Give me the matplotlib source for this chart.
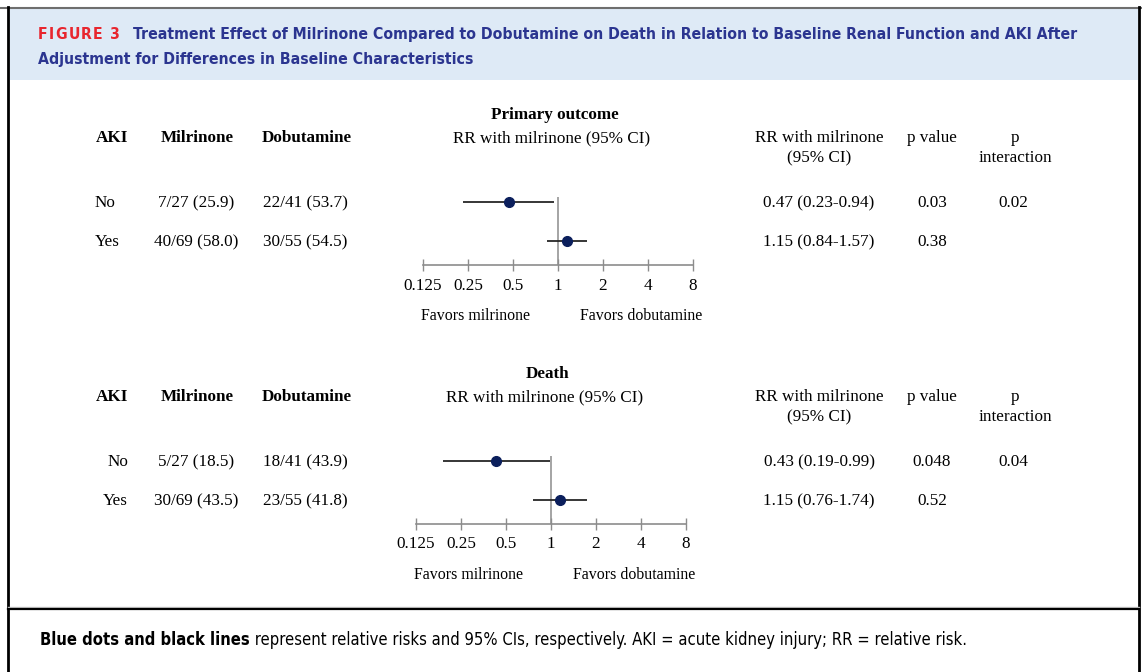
import numpy as np
import matplotlib.pyplot as plt
from matplotlib.patches import Rectangle
from matplotlib.lines import Line2D

W, H = 1142, 672

# Table rows (AKI status)
aki = ['No', 'Yes']

# Primary outcome
prim_mil = ['7/27 (25.9)', '40/69 (58.0)']
prim_dob = ['22/41 (53.7)', '30/55 (54.5)']
prim_rr = [0.47, 1.15]
prim_lo = [0.23, 0.84]
prim_hi = [0.94, 1.57]
prim_p = ['0.03', '0.38']
prim_pint = '0.02'

# Death
death_mil = ['5/27 (18.5)', '30/69 (43.5)']
death_dob = ['18/41 (43.9)', '23/55 (41.8)']
death_rr = [0.43, 1.15]
death_lo = [0.19, 0.76]
death_hi = [0.99, 1.74]
death_p = ['0.048', '0.52']
death_pint = '0.04'

ticks = [0.125, 0.25, 0.5, 1, 2, 4, 8]
tick_labels = ['0.125', '0.25', '0.5', '1', '2', '4', '8']

SERIF = 'Liberation Serif'
SANS = ['DejaVu Sans']
NAVY = '#0b1f5c'
TITLE_BLUE = '#2b3590'
RED = '#e8262e'
FS = 12.3

fig = plt.figure(figsize=(W / 100, H / 100), dpi=100)
bg = fig.add_axes([0, 0, 1, 1])
bg.set_xlim(0, W)
bg.set_ylim(H, 0)
bg.axis('off')

# frame and header band
bg.add_patch(Rectangle((9, 9), 1129, 71, color='#deeaf6', lw=0))
bg.add_line(Line2D([0, 1141], [7.5, 7.5], color='#6e6e6e', lw=1.5))
bg.add_line(Line2D([8, 8], [7, H], color='black', lw=2))
bg.add_line(Line2D([1139, 1139], [7, H], color='black', lw=2))
bg.add_line(Line2D([8, 1139], [607, 607], color='#c8c8c8', lw=1))
bg.add_line(Line2D([8, 1139], [608.5, 608.5], color='black', lw=1.6))

renderer = fig.canvas.get_renderer()


def text_width(s, size, **kw):
    t = bg.text(0, 0, s, fontsize=size, **kw)
    w = t.get_window_extent(renderer).width
    t.remove()
    return w


def fit_size(s, width, **kw):
    # font size that makes s span the given pixel width
    return 10 * width / text_width(s, 10, **kw)


title1 = ('Treatment Effect of Milrinone Compared to Dobutamine on Death in Relation to '
          'Baseline Renal Function and AKI After')
title2 = 'Adjustment for Differences in Baseline Characteristics'
tkw = dict(color=TITLE_BLUE, fontweight='bold', family=SANS, fontstretch='condensed')
ts = fit_size(title1, 940, **tkw)
bg.text(133, 39, title1, fontsize=ts, va='baseline', **tkw)
bg.text(38, 64, title2, fontsize=ts, va='baseline', **tkw)

# tracked "FIGURE 3"
fkw = dict(color=RED, fontweight='bold', family=SANS, fontstretch='condensed')
label = 'FIGURE 3'
raw = text_width(label, ts, **fkw)
track = (82 - raw) / (len(label) - 1)
x = 38
for ch in label:
    t = bg.text(x, 39, ch, fontsize=ts, va='baseline', **fkw)
    x += text_width(ch, ts, **fkw) + track

cap_b = 'Blue dots and black lines'
cap_r = (' represent relative risks and 95% CIs, respectively. AKI = acute kidney injury; '
         'RR = relative risk.')
ckw = dict(color='black', family=SANS, fontstretch='condensed')
cs = 10 * 925 / (text_width(cap_b, 10, fontweight='bold', **ckw) + text_width(cap_r, 10, **ckw))
bg.text(40, 645, cap_b, fontsize=cs, fontweight='bold', va='baseline', **ckw)
bg.text(40 + text_width(cap_b, cs, fontweight='bold', **ckw), 645, cap_r, fontsize=cs,
        va='baseline', **ckw)


def panel(y0, xc, title, mil, dob, rr, lo, hi, pv, pint, aki_right):
    # y0: baseline of the column header line; xc: pixel x of RR = 1
    kw = dict(family=SERIF, fontsize=FS, va='baseline')
    bg.text(xc - 3, y0 - 23, title, fontweight='bold', ha='center', **kw)
    bg.text(xc - 6, y0, 'RR with milrinone (95% CI)', ha='center', **kw)
    bg.text(96, y0, 'AKI', fontweight='bold', ha='left', **kw)
    bg.text(197, y0, 'Milrinone', fontweight='bold', ha='center', **kw)
    bg.text(307, y0, 'Dobutamine', fontweight='bold', ha='center', **kw)
    bg.text(819, y0, 'RR with milrinone', ha='center', **kw)
    bg.text(819, y0 + 20, '(95% CI)', ha='center', **kw)
    bg.text(932, y0, 'p value', ha='center', **kw)
    bg.text(1015, y0, 'p', ha='center', **kw)
    bg.text(1015, y0 + 20, 'interaction', ha='center', **kw)

    rows_y = [y0 + 65, y0 + 104]
    for i, ry in enumerate(rows_y):
        if aki_right:
            bg.text(128, ry, aki[i], ha='right', **kw)
        else:
            bg.text(95, ry, aki[i], ha='left', **kw)
        bg.text(196, ry, mil[i], ha='center', **kw)
        bg.text(305, ry, dob[i], ha='center', **kw)
        bg.text(819, ry, f'{rr[i]:.2f} ({lo[i]:.2f}-{hi[i]:.2f})', ha='center', **kw)
        bg.text(932, ry, pv[i], ha='center', **kw)
    bg.text(1013, rows_y[0], pint, ha='center', **kw)

    # forest plot: log2 axis, 45 px per doubling, 39 px per row
    axis_y = y0 + 123
    ylo, yhi = 1 - 24 / 39, 2.4
    left = xc - 3 * 45
    height = (yhi - ylo) * 39
    ax = fig.add_axes([left / W, 1 - axis_y / H, 270 / W, height / H])
    ax.set_xscale('log', base=2)
    ax.set_xlim(0.125, 8)
    ax.set_ylim(ylo, yhi)
    ax.patch.set_alpha(0)
    for s in ['top', 'right', 'left']:
        ax.spines[s].set_visible(False)
    ax.spines['bottom'].set_color('#8c8c8c')
    ax.spines['bottom'].set_linewidth(1.2)
    ax.set_yticks([])
    ax.set_xticks(ticks)
    ax.set_xticklabels(tick_labels, family=SERIF, fontsize=FS)
    ax.xaxis.set_minor_locator(plt.NullLocator())
    ax.tick_params(axis='x', direction='inout', length=8, width=1, color='#8c8c8c', pad=5)

    ax.vlines(1, ylo, 2.12, color='#8c8c8c', lw=1.1)
    ys = [2, 1]
    for i in range(2):
        ax.hlines(ys[i], lo[i], hi[i], color='#262626', lw=1.3)
    ax.plot(rr, ys, 'o', color=NAVY, ms=7, zorder=3)

    fkw2 = dict(kw, fontsize=11.4)
    bg.text(xc - 82, axis_y + 55, 'Favors milrinone', ha='center', **fkw2)
    bg.text(xc + 83, axis_y + 55, 'Favors dobutamine', ha='center', **fkw2)


panel(142, 558, 'Primary outcome', prim_mil, prim_dob, prim_rr, prim_lo, prim_hi,
      prim_p, prim_pint, False)
panel(401, 551, 'Death', death_mil, death_dob, death_rr, death_lo, death_hi,
      death_p, death_pint, True)

fig.savefig('out.png', dpi=100)
